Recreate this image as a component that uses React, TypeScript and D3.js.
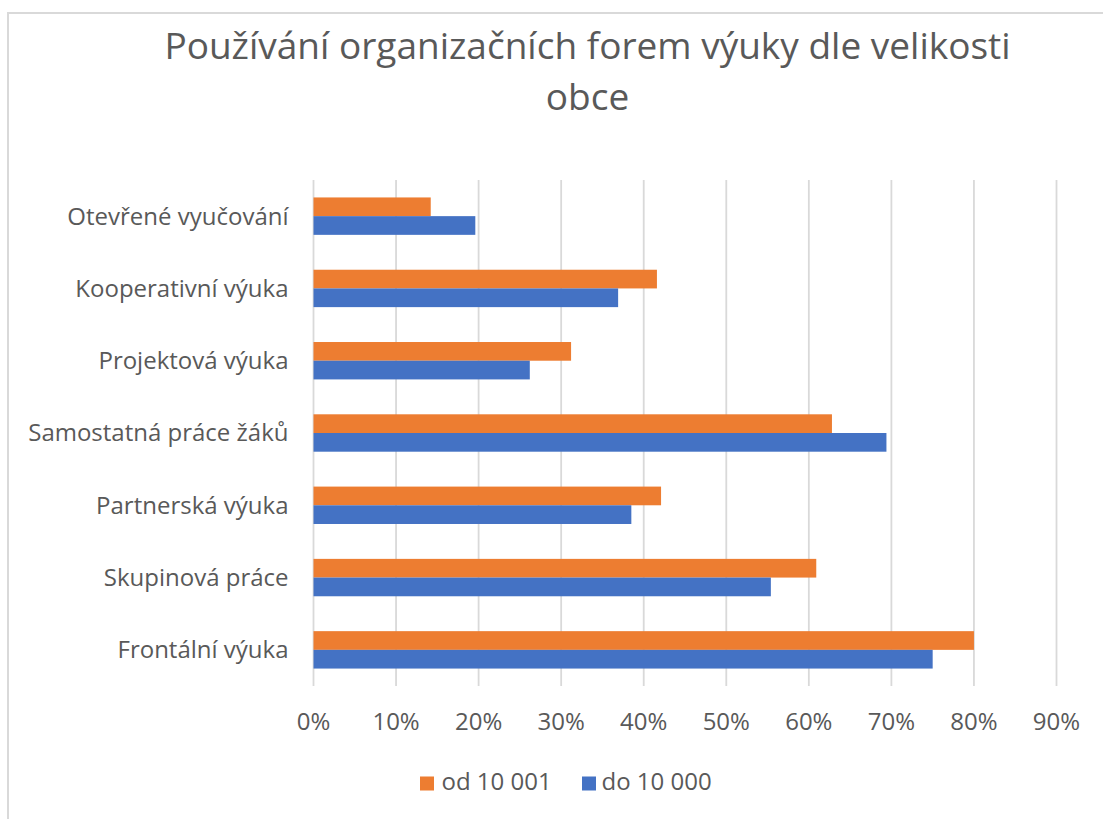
import React from "react";
import * as d3 from "d3";

const categories = [
  "Otevřené vyučování",
  "Kooperativní výuka",
  "Projektová výuka",
  "Samostatná práce žáků",
  "Partnerská výuka",
  "Skupinová práce",
  "Frontální výuka",
];
const seriesNames = ["od 10 001", "do 10 000"];
const od10001 = [14.2, 41.6, 31.2, 62.8, 42.1, 60.9, 80.0];
const do10000 = [19.6, 36.9, 26.2, 69.4, 38.5, 55.4, 75.0];
const xTicks = [0, 10, 20, 30, 40, 50, 60, 70, 80, 90];
const colors = ["#ED7D31", "#4472C4"];
const titleLines = ["Používání organizačních forem výuky dle velikosti", "obce"];

const W = 1103;
const H = 819;
const FONT = "'Open Sans', 'Noto Sans', sans-serif";
const TEXT = "#595959";
const GRID = "#d9d9d9";

export default function App() {
  const x = d3.scaleLinear().domain([0, 90]).range([313.5, 1056.5]);
  const y = d3.scaleBand<string>().domain(categories).range([180, 686]).paddingInner(0).paddingOuter(0);
  const step = y.step();
  const barH = 18.7;
  const series = [od10001, do10000];

  return (
    <div style={{ position: "fixed", left: 0, top: 0 }}>
      <svg width={W} height={H} style={{ display: "block", background: "#fff" }}>
        <rect x={8} y={13} width={W + 20} height={H + 20} fill="#fff" stroke={GRID} strokeWidth={2} />
        <g fontFamily={FONT} fill={TEXT}>
          {titleLines.map((t, i) => (
            <text key={i} x={587.5} y={58.5 + i * 51} textAnchor="middle" fontSize={37}>
              {t}
            </text>
          ))}
        </g>
        <g>
          {xTicks.map((t) => (
            <line key={t} x1={x(t)} x2={x(t)} y1={180} y2={686} stroke={GRID} strokeWidth={1.8} />
          ))}
        </g>
        <g>
          {categories.map((c, i) => {
            const y0 = (y(c) as number) + step / 2 - barH;
            return (
              <g key={c}>
                {series.map((s, k) => (
                  <rect
                    key={k}
                    x={x(0)}
                    y={y0 + k * barH}
                    width={x(s[i]) - x(0)}
                    height={barH}
                    fill={colors[k]}
                  />
                ))}
              </g>
            );
          })}
        </g>
        <g fontFamily={FONT} fill={TEXT} fontSize={24}>
          {categories.map((c) => (
            <text key={c} x={288.5} y={(y(c) as number) + step / 2} dy="0.35em" textAnchor="end">
              {c}
            </text>
          ))}
          {xTicks.map((t) => (
            <text key={t} x={x(t)} y={730} textAnchor="middle">
              {t + "%"}
            </text>
          ))}
        </g>
        <g fontFamily={FONT} fill={TEXT} fontSize={24}>
          <rect x={420} y={776.5} width={14} height={14} fill={colors[0]} />
          <text x={441.5} y={790}>{seriesNames[0]}</text>
          <rect x={582} y={776.5} width={14} height={14} fill={colors[1]} />
          <text x={601.5} y={790}>{seriesNames[1]}</text>
        </g>
      </svg>
    </div>
  );
}
